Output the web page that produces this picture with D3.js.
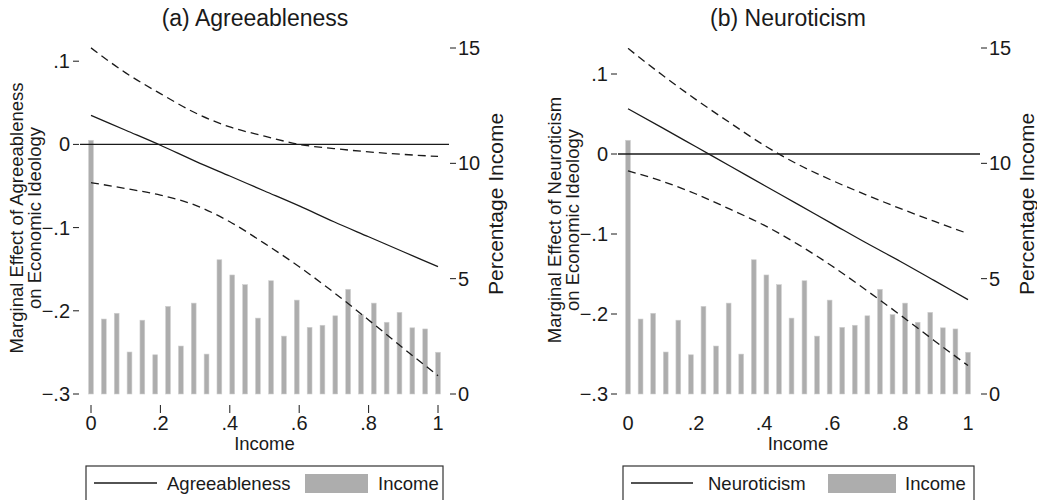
<!DOCTYPE html>
<html><head><meta charset="utf-8">
<script src="https://cdn.jsdelivr.net/npm/d3@7"></script>
<style>
body{margin:0;background:#fff}
text{font-family:"Liberation Sans",Arial,Helvetica,sans-serif;fill:#1a1a1a}
</style>
</head><body>
<svg id="c" width="1037" height="500"></svg>
<script>
// ---------- data ----------
const incomeGrid = [0, 0.1, 0.2, 0.3, 0.4, 0.5, 0.6, 0.7, 0.8, 0.9, 1];
const agreeEst   = [0.035, 0.017, -0.001, -0.020, -0.038, -0.056, -0.074, -0.093, -0.111, -0.129, -0.147];
const agreeUpper = [0.116, 0.086, 0.061, 0.038, 0.021, 0.010, 0.000, -0.005, -0.009, -0.012, -0.0145];
const agreeLower = [-0.046, -0.053, -0.061, -0.073, -0.093, -0.119, -0.147, -0.178, -0.211, -0.245, -0.278];
const neuroEst   = [0.0565, 0.033, 0.009, -0.015, -0.039, -0.063, -0.087, -0.111, -0.134, -0.158, -0.182];
const neuroUpper = [0.132, 0.099, 0.068, 0.039, 0.011, -0.013, -0.033, -0.051, -0.068, -0.084, -0.0995];
const neuroLower = [-0.021, -0.034, -0.050, -0.069, -0.089, -0.113, -0.140, -0.170, -0.201, -0.233, -0.2645];
const barIncome = [0, 0.037, 0.074, 0.111, 0.148, 0.185, 0.222, 0.259, 0.296, 0.333, 0.370, 0.407, 0.444, 0.481,
                   0.519, 0.556, 0.593, 0.630, 0.667, 0.704, 0.741, 0.778, 0.815, 0.852, 0.889, 0.926, 0.963, 1];
const barPct = [11.0, 3.25, 3.5, 1.82, 3.2, 1.70, 3.8, 2.08, 3.94, 1.73, 5.82, 5.16, 4.74, 3.29,
                4.91, 2.51, 4.07, 2.89, 2.98, 3.39, 4.54, 3.44, 3.94, 3.11, 3.54, 2.87, 2.82, 1.81];
const xTicks = [0, 0.2, 0.4, 0.6, 0.8, 1];
const xTickLabels = ["0", ".2", ".4", ".6", ".8", "1"];
const yTicks = [0.1, 0, -0.1, -0.2, -0.3];
const yTickLabels = [".1", "0", "\u2212.1", "\u2212.2", "\u2212.3"];
const pctTicks = [0, 5, 10, 15];
const pctTickLabels = ["0", "5", "10", "15"];
const panelTitles = ["(a) Agreeableness", "(b) Neuroticism"];
const yTitles = [["Marginal Effect of Agreeableness", "on Economic Ideology"],
                 ["Marginal Effect of Neuroticism", "on Economic Ideology"]];
const legendLabels = [["Agreeableness", "Income"], ["Neuroticism", "Income"]];

// ---------- drawing ----------
const svg = d3.select("#c");
const INK = "#1a1a1a", BAR = "#adadad";

function panel(cfg) {
  const g = svg.append("g");
  const x = d3.scaleLinear().domain([0, 1]).range(cfg.xr);
  const y = d3.scaleLinear().domain([-0.3, 0.1]).range(cfg.yr);
  const y2 = d3.scaleLinear().domain([0, 15]).range([394, 48]);

  // bars
  g.selectAll("rect.bar").data(barIncome).join("rect")
    .attr("x", d => x(d) - 2.4).attr("width", 4.8)
    .attr("y", (d, i) => y2(barPct[i])).attr("height", (d, i) => y2(0) - y2(barPct[i]))
    .attr("fill", BAR).attr("stroke", "#cfcfcf").attr("stroke-width", 0.6);

  // zero line
  g.append("line").attr("x1", cfg.px[0]).attr("x2", cfg.px[1])
    .attr("y1", y(0)).attr("y2", y(0)).attr("stroke", INK).attr("stroke-width", 1.3);

  const line = d3.line().x((d, i) => x(incomeGrid[i])).y(d => y(d)).curve(d3.curveMonotoneX);
  g.append("path").attr("d", line(cfg.est)).attr("fill", "none").attr("stroke", INK).attr("stroke-width", 1.3);
  [cfg.up, cfg.lo].forEach(s => g.append("path").attr("d", line(s)).attr("fill", "none")
    .attr("stroke", INK).attr("stroke-width", 1.3).attr("stroke-dasharray", "8,5"));

  // left axis
  yTicks.forEach((t, i) => {
    g.append("line").attr("x1", cfg.px[0] - 7).attr("x2", cfg.px[0] - 1)
      .attr("y1", y(t)).attr("y2", y(t)).attr("stroke", INK).attr("stroke-width", 1);
    g.append("text").attr("x", cfg.px[0] - 10).attr("y", y(t)).attr("dy", "0.35em")
      .attr("text-anchor", "end").attr("font-size", 20).text(yTickLabels[i]);
  });
  // right axis
  pctTicks.forEach((t, i) => {
    g.append("line").attr("x1", cfg.px[1] + 1).attr("x2", cfg.px[1] + 7)
      .attr("y1", y2(t)).attr("y2", y2(t)).attr("stroke", INK).attr("stroke-width", 1);
    g.append("text").attr("x", cfg.px[1] + 9).attr("y", y2(t)).attr("dy", "0.35em")
      .attr("font-size", 20).text(pctTickLabels[i]);
  });
  // x axis
  xTicks.forEach((t, i) => {
    if (cfg.xtickMarks) g.append("line").attr("x1", x(t)).attr("x2", x(t))
      .attr("y1", 405).attr("y2", 413).attr("stroke", INK).attr("stroke-width", 1);
    g.append("text").attr("x", x(t)).attr("y", 430).attr("text-anchor", "middle")
      .attr("font-size", 20).text(xTickLabels[i]);
  });
  g.append("text").attr("x", (cfg.xr[0] + cfg.xr[1]) / 2).attr("y", 450).attr("text-anchor", "middle")
    .attr("font-size", 18.5).text("Income");

  // titles
  g.append("text").attr("x", cfg.titleX).attr("y", 26).attr("text-anchor", "middle")
    .attr("font-size", 23).text(cfg.title);
  cfg.ytitle.forEach((s, i) => g.append("text")
    .attr("transform", `translate(${cfg.ytx + i * 18},${cfg.yty}) rotate(-90)`)
    .attr("dy", "0.35em").attr("text-anchor", "middle").attr("font-size", 18.5).text(s));
  g.append("text").attr("transform", `translate(${cfg.px[1] + 47},204) rotate(-90)`)
    .attr("dy", "0.35em").attr("text-anchor", "middle").attr("font-size", 21).text("Percentage Income");

  // legend
  const L = cfg.leg;
  g.append("rect").attr("x", L.x0).attr("y", 466).attr("width", L.x1 - L.x0).attr("height", 50)
    .attr("fill", "#fff").attr("stroke", "#333").attr("stroke-width", 1.2);
  g.append("line").attr("x1", L.lx0).attr("x2", L.lx1).attr("y1", 483).attr("y2", 483)
    .attr("stroke", INK).attr("stroke-width", 1.3);
  g.append("text").attr("x", L.t1).attr("y", 490).attr("font-size", 18.5).text(cfg.legend[0]);
  g.append("rect").attr("x", L.r0).attr("y", 474).attr("width", L.r1 - L.r0).attr("height", 19).attr("fill", BAR);
  g.append("text").attr("x", L.t2).attr("y", 490).attr("font-size", 18.5).text(cfg.legend[1]);
}

panel({xr: [91, 438], yr: [394, 61.2], px: [80, 449], est: agreeEst, up: agreeUpper, lo: agreeLower,
       xtickMarks: true, title: panelTitles[0], titleX: 255, ytitle: yTitles[0], ytx: 17, yty: 218,
       legend: legendLabels[0], leg: {x0: 86, x1: 443, lx0: 94, lx1: 157, t1: 167, r0: 305, r1: 368, t2: 378}});
panel({xr: [628, 968], yr: [394, 74], px: [618, 980], est: neuroEst, up: neuroUpper, lo: neuroLower,
       xtickMarks: false, title: panelTitles[1], titleX: 788, ytitle: yTitles[1], ytx: 555, yty: 220,
       legend: legendLabels[1], leg: {x0: 623, x1: 974, lx0: 631, lx1: 693, t1: 708, r0: 828, r1: 896, t2: 905}});
</script>
</body></html>
